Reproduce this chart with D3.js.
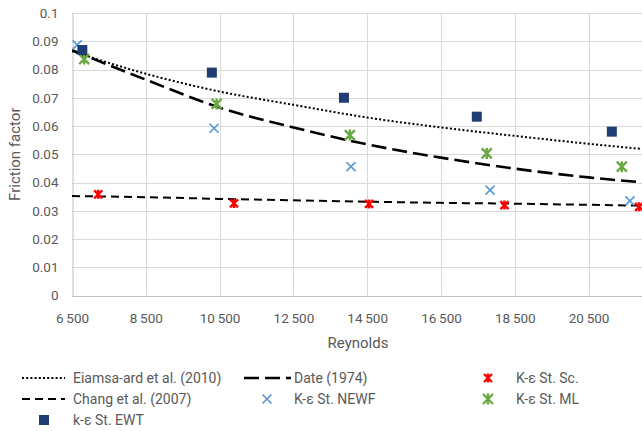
<!DOCTYPE html>
<html>
 <head>
  <title>Friction factor vs Reynolds</title>
  <style>
  body {
   margin: 0;
   background-color: white;
  }
  svg {
   font-family: Roboto, "Liberation Sans", sans-serif;
  }
  </style>
 </head>

 <body>
  <script src="https://cdnjs.cloudflare.com/ajax/libs/d3/7.8.3/d3.min.js"></script>
  <script>
   // correlations, read at the gridlines
   const lineRe = [6500, 8500, 10500, 12500, 14500, 16500, 18500, 20500, 22000];
   const eiamsa = [0.0865, 0.0785, 0.0722, 0.0675, 0.0630, 0.0595, 0.0565, 0.0537, 0.0518];
   const date1974 = [0.0868, 0.0764, 0.0665, 0.0595, 0.0535, 0.0488, 0.0449, 0.0418, 0.0400];
   const chang = [0.0352, 0.0348, 0.0342, 0.0337, 0.0332, 0.0328, 0.0325, 0.0321, 0.0318];

   // simulation points
   const ewtRe = [6780, 10290, 13870, 17470, 21130];
   const ewtF = [0.0869, 0.0789, 0.0700, 0.0633, 0.0580];
   const newfRe = [6640, 10350, 14060, 17830, 21620];
   const newfF = [0.0887, 0.0592, 0.0456, 0.0373, 0.0335];
   const mlRe = [6830, 10420, 14030, 17740, 21400];
   const mlF = [0.0837, 0.0678, 0.0568, 0.0503, 0.0456];
   const scRe = [7210, 10890, 14550, 18220, 21870];
   const scF = [0.0358, 0.0326, 0.0324, 0.0320, 0.0314];

   const xTicks = [6500, 8500, 10500, 12500, 14500, 16500, 18500, 20500];
   const yTicks = [0, 0.01, 0.02, 0.03, 0.04, 0.05, 0.06, 0.07, 0.08, 0.09, 0.1];

   const w = 642;
   const h = 431;
   const padLeft = 72;
   const padTop = 13;
   const padBottom = 295.5;

   const xScale = d3.scaleLinear()
                    .domain([6500, 22000])
                    .range([padLeft, padLeft + 15500 / 2000 * 73.8]);
   const yScale = d3.scaleLinear()
                    .domain([0, 0.1])
                    .range([padBottom, padTop]);

   const svg = d3.select("body")
                 .append("svg")
                 .attr("width", w)
                 .attr("height", h);

   // gridlines
   svg.append("g")
      .selectAll("line")
      .data(yTicks.slice(1))
      .enter()
      .append("line")
      .attr("x1", padLeft)
      .attr("x2", w)
      .attr("y1", d => Math.round(yScale(d)) + 0.5)
      .attr("y2", d => Math.round(yScale(d)) + 0.5)
      .attr("stroke", "#d9d9d9");
   svg.append("g")
      .selectAll("line")
      .data(xTicks.slice(1))
      .enter()
      .append("line")
      .attr("x1", d => Math.round(xScale(d)) + 0.5)
      .attr("x2", d => Math.round(xScale(d)) + 0.5)
      .attr("y1", padTop)
      .attr("y2", padBottom)
      .attr("stroke", "#d9d9d9");

   // axes
   const xAxis = d3.axisBottom(xScale)
                   .tickValues(xTicks)
                   .tickSize(0)
                   .tickPadding(17)
                   .tickFormat(d => d3.format(",")(d).replace(",", "\u2009"));
   const yAxis = d3.axisLeft(yScale)
                   .tickValues(yTicks)
                   .tickSize(0)
                   .tickPadding(14)
                   .tickFormat(d => String(+d.toFixed(2)));
   const gx = svg.append("g")
                 .attr("transform", "translate(0," + (Math.round(padBottom) + 0.5) + ")")
                 .call(xAxis);
   gx.select(".domain").attr("stroke", "#bfbfbf").attr("d", "M" + padLeft + ",0H" + w);
   const gy = svg.append("g")
                 .attr("transform", "translate(" + (padLeft + 0.5) + ",0)")
                 .call(yAxis);
   gy.select(".domain").attr("stroke", "#bfbfbf");
   svg.selectAll(".tick text")
      .attr("fill", "#595959")
      .style("font-size", "13.5px")
      .style("font-family", "Roboto, sans-serif");

   svg.append("text")
      .attr("x", (padLeft + w) / 2 + 1)
      .attr("y", 348)
      .attr("text-anchor", "middle")
      .attr("fill", "#595959")
      .style("font-size", "15px")
      .text("Reynolds");
   svg.append("text")
      .attr("transform", "translate(20," + (padTop + padBottom) / 2 + ") rotate(-90)")
      .attr("text-anchor", "middle")
      .attr("fill", "#595959")
      .style("font-size", "15px")
      .text("Friction factor");

   // correlation lines
   svg.append("clipPath")
      .attr("id", "clip")
      .append("rect")
      .attr("x", padLeft)
      .attr("y", 0)
      .attr("width", w - padLeft)
      .attr("height", padBottom);
   const plot = svg.append("g")
                   .attr("clip-path", "url(#clip)");

   const line = d3.line()
                  .x((d, i) => xScale(lineRe[i]))
                  .y(d => yScale(d))
                  .curve(d3.curveMonotoneX);
   const styles = [
    {data: eiamsa, dash: "2,2.2", width: 2},
    {data: date1974, dash: "15,6", width: 2.6},
    {data: chang, dash: "8,5", width: 2}
   ];
   styles.forEach(s => {
    plot.append("path")
        .attr("d", line(s.data))
        .attr("fill", "none")
        .attr("stroke", "black")
        .attr("stroke-width", s.width)
        .attr("stroke-dasharray", s.dash);
   });

   // marker shapes
   function square(g, x, y) {
    g.append("rect")
     .attr("x", x - 5)
     .attr("y", y - 5)
     .attr("width", 10)
     .attr("height", 10)
     .attr("fill", "#1f3c74");
   }
   function cross(g, x, y) {
    g.append("path")
     .attr("d", "M" + (x - 4.5) + "," + (y - 4.5) + "L" + (x + 4.5) + "," + (y + 4.5) +
                "M" + (x - 4.5) + "," + (y + 4.5) + "L" + (x + 4.5) + "," + (y - 4.5))
     .attr("stroke", "#5b9bd5")
     .attr("stroke-width", 1.7)
     .attr("fill", "none");
   }
   function star(color, r) {
    return function(g, x, y) {
     g.append("path")
      .attr("d", "M" + (x - r) + "," + (y - r) + "L" + (x + r) + "," + (y + r) +
                 "M" + (x - r) + "," + (y + r) + "L" + (x + r) + "," + (y - r) +
                 "M" + x + "," + (y - r - 0.5) + "V" + (y + r + 0.5))
      .attr("stroke", color)
      .attr("stroke-width", 2.4)
      .attr("fill", "none");
    };
   }
   const scStar = star("#ff0000", 4);
   const mlStar = star("#6aa842", 5);

   const pts = svg.append("g");
   newfRe.forEach((d, i) => cross(pts, xScale(d), yScale(newfF[i])));
   mlRe.forEach((d, i) => mlStar(pts, xScale(d), yScale(mlF[i])));
   scRe.forEach((d, i) => scStar(pts, xScale(d), yScale(scF[i])));
   ewtRe.forEach((d, i) => square(pts, xScale(d), yScale(ewtF[i])));

   // legend
   const leg = svg.append("g")
                  .style("font-size", "14px")
                  .attr("fill", "#595959");
   function legLine(x1, x2, y, dash, width) {
    leg.append("line")
       .attr("x1", x1).attr("x2", x2)
       .attr("y1", y).attr("y2", y)
       .attr("stroke", "black")
       .attr("stroke-width", width)
       .attr("stroke-dasharray", dash);
   }
   function legText(x, y, t) {
    leg.append("text")
       .attr("x", x)
       .attr("y", y + 5)
       .text(t);
   }
   legLine(22, 65, 378, "2,2.2", 2);
   legText(73, 378, "Eiamsa-ard et al. (2010)");
   legLine(244, 291, 378, "15,6", 2.6);
   legText(294, 378, "Date (1974)");
   scStar(leg, 488, 378);
   legText(516, 378, "K-\u03b5 St. Sc.");
   legLine(22, 65, 399, "8,5", 2);
   legText(73, 399, "Chang et al. (2007)");
   cross(leg, 267, 399);
   legText(294, 399, "K-\u03b5 St. NEWF");
   mlStar(leg, 488, 399);
   legText(516, 399, "K-\u03b5 St. ML");
   square(leg, 44, 420);
   legText(73, 420, "k-\u03b5 St. EWT");
  </script>
 </body>
</html>
